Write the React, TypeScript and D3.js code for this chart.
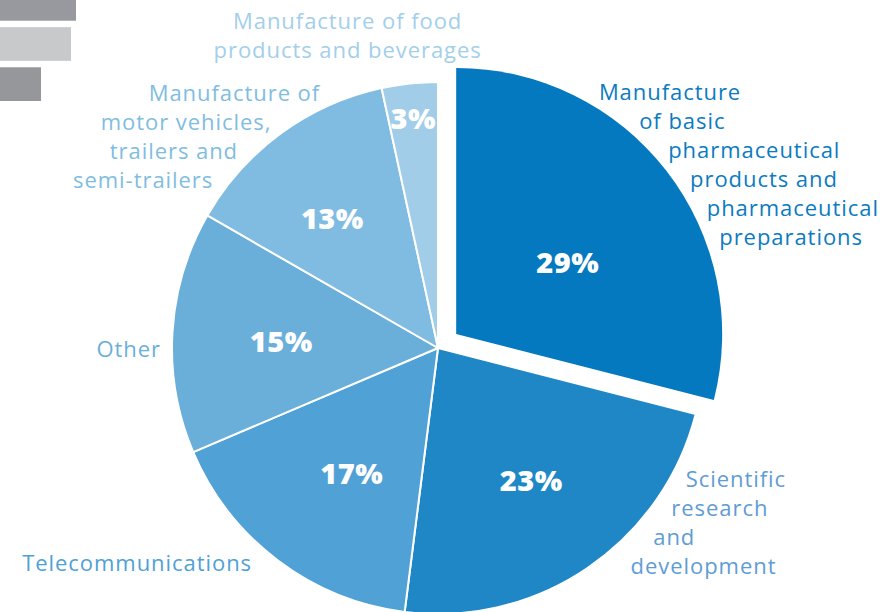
import React, { useEffect } from "react";
import * as d3 from "d3";

const categories = [
  "Manufacture of basic pharmaceutical products and pharmaceutical preparations",
  "Scientific research and development",
  "Telecommunications",
  "Other",
  "Manufacture of motor vehicles, trailers and semi-trailers",
  "Manufacture of food products and beverages",
];
// shares; labels show them rounded
const shares = [29.0, 23.0, 16.6, 14.7, 13.3, 3.4];
const sliceColors = ["#0479bf", "#2087c7", "#50a1d5", "#69afda", "#80bce1", "#a2cde9"];
const labelColors = ["#0b7bc1", "#5f9cd4", "#4fa1d5", "#6aafda", "#7fbde1", "#a3cfea"];
const labelLines = [
  ["Manufacture", "of basic", "pharmaceutical", "products and", "pharmaceutical", "preparations"],
  ["Scientific", "research", "and", "development"],
  ["Telecommunications"],
  ["Other"],
  ["Manufacture of", "motor vehicles,", "trailers and", "semi-trailers"],
  ["Manufacture of food", "products and beverages"],
];
// label layout: first baseline, anchor, arc the lines hug (radius, centre x shift)
const labelBaseline = [100, 487, 571, 357, 101, 29];
const labelAnchor = ["start", "start", "end", "end", "end", "middle"];
const labelRadius = [280, 332, 285, 277, 280, 326];
const labelShiftX = [0, -57, 0, 0, 0, 0];
const pctRadius = [0.5, 0.605, 0.57, 0.59, 0.63, 0.87];
const pctAngleShift = [4.8, -1.2, -2.4, -0.5, -2.9, 0];
const explodeOffset = [23, 0, 0, 0, 0, 0];

const barWidths = [76, 71, 41];
const barColors = ["#98999e", "#c8c9cb", "#96979b"];

const W = 883;
const H = 612;
const cx = 438;
const cy = 348;
const R = 266;
const lineStep = 29;

export default function App() {
  useEffect(() => {
    document.body.style.margin = "0";
  }, []);

  const pie = d3.pie<number>().sort(null).value((d) => d)(shares);
  const arc = d3.arc<d3.PieArcDatum<number>>().innerRadius(0).outerRadius(R);

  const barY = d3.scaleBand<number>().domain([0, 1, 2]).range([-13, 101]).paddingInner(0.16);

  return (
    <svg width={W} height={H} style={{ display: "block" }}>
      <rect width={W} height={H} fill="#ffffff" />
      {barWidths.map((w, i) => (
        <rect key={i} x={0} y={barY(i)} width={w} height={barY.bandwidth()} fill={barColors[i]} />
      ))}
      {pie.map((p, i) => {
        const mid = (p.startAngle + p.endAngle) / 2;
        const ox = explodeOffset[i] * Math.sin(mid);
        const oy = -explodeOffset[i] * Math.cos(mid);
        const la = mid + (pctAngleShift[i] * Math.PI) / 180;
        const pr = pctRadius[i] * R;
        const px = ox + pr * Math.sin(la);
        const py = oy - pr * Math.cos(la);
        return (
          <g key={i} transform={`translate(${cx},${cy})`}>
            <path
              d={arc(p) || ""}
              transform={`translate(${ox},${oy})`}
              fill={sliceColors[i]}
              stroke="#ffffff"
              strokeWidth={explodeOffset[i] ? 0 : 2}
              strokeLinejoin="round"
            />
            <text
              x={px}
              y={py}
              textAnchor="middle"
              dominantBaseline="central"
              fill="#ffffff"
              fontFamily="'Open Sans', sans-serif"
              fontWeight={800}
              fontSize={29}
              letterSpacing={0.5}
            >
              {Math.round(shares[i])}%
            </text>
          </g>
        );
      })}
      {pie.map((p, i) => {
        const mid = (p.startAngle + p.endAngle) / 2;
        const ox = cx + explodeOffset[i] * Math.sin(mid) + labelShiftX[i];
        const oy = cy - explodeOffset[i] * Math.cos(mid);
        const rl = labelRadius[i];
        return (
          <g key={"l" + i}>
            {labelLines[i].map((ln, j) => {
              const base = labelBaseline[i] + j * lineStep;
              const ym = base - 7;
              let x: number;
              if (labelAnchor[i] === "middle") {
                x = ox + rl * Math.sin(mid - 0.174);
              } else {
                const dx = Math.sqrt(Math.max(0, rl * rl - (ym - oy) * (ym - oy)));
                x = labelAnchor[i] === "start" ? ox + dx : ox - dx;
              }
              return (
                <text
                  key={j}
                  x={x}
                  y={base}
                  textAnchor={labelAnchor[i] as any}
                  fill={labelColors[i]}
                  fontFamily="'Open Sans', sans-serif"
                  fontSize={22}
                  letterSpacing={0.95}
                >
                  {ln}
                </text>
              );
            })}
          </g>
        );
      })}
    </svg>
  );
}
